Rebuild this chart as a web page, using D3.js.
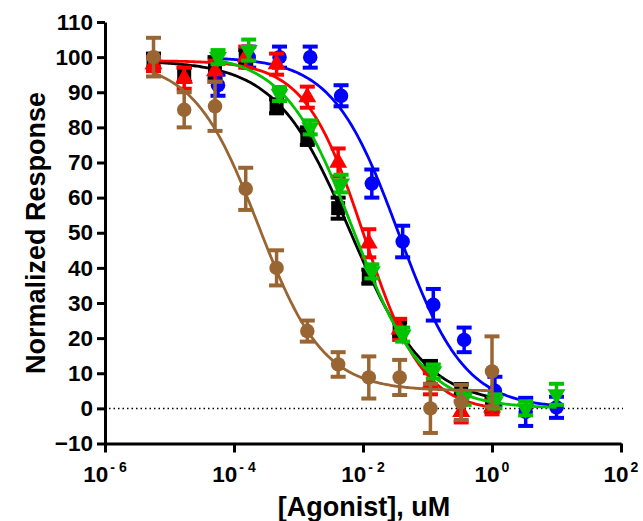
<!DOCTYPE html>
<html>
<head>
<meta charset="utf-8">
<script src="https://cdn.jsdelivr.net/npm/d3@7"></script>
<style>
    body { margin: 0; background: #fff; }
    svg { display: block; font-family: "Liberation Sans", Arial, sans-serif; font-weight: bold; }
</style>
</head>
<body>
<svg id="chart" width="643" height="521"></svg>
<script>
    // concentrations (uM), 3-fold dilutions
    const concLow = [5.65e-6, 1.69e-5, 5.08e-5, 1.52e-4, 4.57e-4, 1.37e-3, 4.12e-3, 0.0123, 0.037, 0.111, 0.333, 1];
    const concHigh = [5.65e-5, 1.69e-4, 5.08e-4, 1.52e-3, 4.57e-3, 0.0137, 0.0412, 0.123, 0.37, 1.11, 3.33, 10];

    const blackY = [99, 95, 97, 100, 86, 77.5, 57, 37.5, 22.5, 12, 5.4, 1];
    const blackErr = [2, 2, 3, 2, 2, 2.5, 3, 2, 2, 1.5, 1.5, 2];
    const redY = [98, 94, 96, 100, 98, 88.6, 70, 47, 22.5, 7, -1, 0.3];
    const redErr = [2, 3, 3, 3, 3, 3, 4, 4, 3, 3, 3, 2];
    const greenY = [100, 102, 89.5, 80, 64, 39, 21, 10.5, 3, 2, 0, 4];
    const greenErr = [2, 3, 2, 2, 2.5, 2, 2, 2, 2, 2, 2, 3];
    const blueY = [92, 100, 100, 100, 89, 64, 47.5, 29.5, 19.5, 5, -1, 0.3];
    const blueErr = [3, 3, 3, 3, 3, 4, 4.5, 4.5, 3.5, 4, 4, 3];
    const brownY = [100, 85, 86, 62.5, 40, 22, 12.5, 8.8, 8.8, 0, 1.7, 10.5];
    const brownErr = [5.5, 5, 7, 6, 5, 3, 3.5, 6, 5, 7, 5, 10];

    // 4PL fit parameters: top, bottom, logEC50, hill
    const blackFit = [99, 1, -2.19, 0.75];
    const redFit = [99, -1, -1.98, 0.95];
    const greenFit = [101, 0, -2.145, 0.81];
    const blueFit = [100, 0, -1.45, 0.85];
    const brownFit = [99, 5, -3.62, 0.864];

    const yTicks = d3.range(-10, 111, 10);
    const xTicks = [1e-6, 1e-4, 1e-2, 1, 1e2];
    const xExponents = ["-6", "-4", "-2", "0", "2"];

    const series = [
        { x: concLow, y: blackY, err: blackErr, fit: blackFit, color: "#000000", shape: "square" },
        { x: concHigh, y: blueY, err: blueErr, fit: blueFit, color: "#0000ff", shape: "circle" },
        { x: concLow, y: redY, err: redErr, fit: redFit, color: "#ff0000", shape: "triangle" },
        { x: concHigh, y: greenY, err: greenErr, fit: greenFit, color: "#00c400", shape: "down" },
        { x: concLow, y: brownY, err: brownErr, fit: brownFit, color: "#996633", shape: "circle" }
    ];

    const svg = d3.select("#chart");
    const x = d3.scaleLog().domain([1e-6, 1e2]).range([105, 621]);
    const y = d3.scaleLinear().domain([-10, 110]).range([443.5, 22]);

    // zero line
    svg.append("line")
        .attr("x1", x(1e-6) + 4).attr("x2", x(1e2) + 2)
        .attr("y1", y(0)).attr("y2", y(0))
        .attr("stroke", "#000").attr("stroke-width", 1.5)
        .attr("stroke-dasharray", "1.5,3");

    // axes
    let yAxis = svg.append("g")
        .attr("transform", `translate(${x(1e-6)},0)`)
        .call(d3.axisLeft(y).tickValues(yTicks).tickSize(8).tickPadding(4).tickSizeOuter(0));
    yAxis.select(".domain").attr("stroke-width", 3);
    yAxis.selectAll(".tick line").attr("stroke-width", 3);
    yAxis.selectAll(".tick text")
        .attr("font-size", 22.5).attr("font-family", "Liberation Sans, Arial").attr("font-weight", "bold");

    let xAxis = svg.append("g")
        .attr("transform", `translate(0,${y(-10)})`)
        .call(d3.axisBottom(x).tickValues(xTicks).tickSize(9).tickSizeOuter(0).tickFormat(""));
    xAxis.select(".domain").attr("stroke-width", 3);
    xAxis.selectAll(".tick line").attr("stroke-width", 3);

    let xLabels = svg.append("g").selectAll("text")
        .data(xTicks)
        .join("text")
        .attr("x", d => x(d))
        .attr("y", 482)
        .attr("text-anchor", "middle")
        .attr("font-size", 22.5);
    xLabels.append("tspan").text("10");
    xLabels.append("tspan")
        .attr("font-size", 14)
        .attr("dx", 2)
        .attr("dy", -10)
        .text((d, i) => xExponents[i].replace("-", "- "));

    // titles
    svg.append("text")
        .attr("transform", "translate(45,233) rotate(-90)")
        .attr("text-anchor", "middle")
        .attr("font-size", 27)
        .text("Normalized Response");

    svg.append("text")
        .attr("x", 364).attr("y", 516)
        .attr("text-anchor", "middle")
        .attr("font-size", 27)
        .text("[Agonist], uM");

    // series
    function fitValue(p, c) {
        return p[1] + (p[0] - p[1]) / (1 + Math.pow(10, (Math.log10(c) - p[2]) * p[3]));
    }

    const line = d3.line().x(d => x(d[0])).y(d => y(d[1]));

    series.forEach(s => {
        let g = svg.append("g");
        let lo = Math.log10(s.x[0]), hi = Math.log10(s.x[s.x.length - 1]);
        let pts = d3.range(0, 201).map(i => {
            let c = Math.pow(10, lo + (hi - lo) * i / 200);
            return [c, fitValue(s.fit, c)];
        });
        g.append("path")
            .attr("d", line(pts))
            .attr("fill", "none")
            .attr("stroke", s.color)
            .attr("stroke-width", 2.8);

        let pts2 = s.x.map((c, i) => ({ c: c, v: s.y[i], e: s.err[i] }));
        let bars = g.append("g").attr("stroke", s.color);
        bars.selectAll(".v").data(pts2).join("line")
            .attr("stroke-width", 3.5)
            .attr("x1", d => x(d.c)).attr("x2", d => x(d.c))
            .attr("y1", d => y(d.v - d.e)).attr("y2", d => y(d.v + d.e));
        bars.selectAll(".t").data(pts2).join("line")
            .attr("stroke-width", 4)
            .attr("x1", d => x(d.c) - 7.5).attr("x2", d => x(d.c) + 7.5)
            .attr("y1", d => y(d.v + d.e)).attr("y2", d => y(d.v + d.e));
        bars.selectAll(".b").data(pts2).join("line")
            .attr("stroke-width", 4)
            .attr("x1", d => x(d.c) - 7.5).attr("x2", d => x(d.c) + 7.5)
            .attr("y1", d => y(d.v - d.e)).attr("y2", d => y(d.v - d.e));

        let sym;
        if (s.shape === "square") sym = d3.symbol(d3.symbolSquare, 196);
        else if (s.shape === "circle") sym = d3.symbol(d3.symbolCircle, 165);
        else sym = d3.symbol(d3.symbolTriangle, 140);

        g.selectAll("path.m").data(pts2).join("path")
            .attr("class", "m")
            .attr("d", sym)
            .attr("transform", d => `translate(${x(d.c)},${y(d.v)})` + (s.shape === "down" ? " rotate(180)" : ""))
            .attr("fill", s.color);
    });
</script>
</body>
</html>
